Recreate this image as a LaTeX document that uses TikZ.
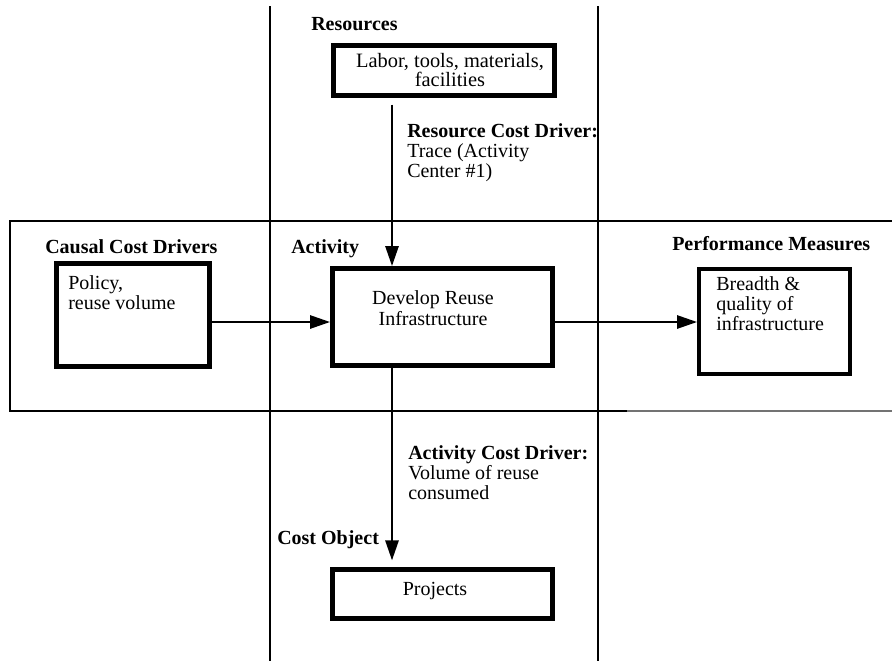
\documentclass[tikz,border=0pt]{standalone}
\usepackage{fontspec}
\setmainfont{Liberation Serif}
\usetikzlibrary{arrows.meta}

\tikzset{
  box/.style={draw, line width=3.75pt, inner sep=0pt},
  lane/.style={line width=1.4pt},
  head/.style={font=\bfseries\fontsize{15}{15}\selectfont, anchor=base west, inner sep=0pt},
  txt/.style={font=\fontsize{15}{15}\selectfont, inner sep=0pt},
}

\begin{document}
\begin{tikzpicture}[x=0.75pt, y=-0.75pt, node distance=185pt, >={Triangle[length=15pt,width=10pt]}]
  \useasboundingbox (0,0) rectangle (892,661);
  % lanes
  \draw[lane] (270,6) -- (270,661);
  \draw[lane] (598,6) -- (598,661);
  \draw[lane] (892,221) -- (10,221) -- (10,411) -- (627,411);
  \draw[line width=0.9pt, black!55] (627,411) -- (892,411);

  % boxes
  \node(act)[box, minimum width=165pt, minimum height=72.75pt] at (442.5,317) {};
  \node(res)[box, above of=act, node distance=184.9pt, xshift=1.1pt, minimum width=165.75pt, minimum height=37.5pt] {};
  \node(proj)[box, below of=act, node distance=207.75pt, minimum width=165pt, minimum height=36.75pt] {};
  \node(cause)[box, left of=act, node distance=232.1pt, yshift=1.5pt, minimum width=114.75pt, minimum height=77.25pt] {};
  \node(perf)[box, line width=3pt, right of=act, node distance=249pt, yshift=-3.4pt, minimum width=113.25pt, minimum height=78.75pt] {};

  % box texts (base = last line)
  \node(restxt)[txt, align=center, anchor=base, font=\fontsize{15.3}{14.25}\selectfont] at (450,86) {Labor, tools, materials,\\facilities};
  \node(acttxt)[txt, align=center, anchor=base, font=\fontsize{15}{15.75}\selectfont] at (433,325) {Develop Reuse\\Infrastructure};
  \node(causetxt)[txt, align=left, anchor=base west, font=\fontsize{15}{13.5}\selectfont] at (68,309) {Policy,\\reuse volume};
  \node(perftxt)[txt, align=left, anchor=base west] at (716,330) {Breadth \&\\quality of\\infrastructure};
  \node(projtxt)[txt, anchor=base] at (435,595) {Projects};

  % headings
  \node(reshd)[head] at (311,30) {Resources};
  \node(causehd)[head] at (45,253) {Causal Cost Drivers};
  \node(acthd)[head] at (291,253) {Activity};
  \node(perfhd)[head] at (672,250) {Performance Measures};
  \node(objhd)[head] at (277,544) {Cost Object};

  % driver labels
  \node(resdrv)[txt, align=left, anchor=base west] at (407,177)
    {\textbf{Resource Cost Driver:}\\Trace (Activity\\Center \#1)};
  \node(actdrv)[txt, align=left, anchor=base west] at (408,499)
    {\textbf{Activity Cost Driver:}\\Volume of reuse\\consumed};

  % flows
  \coordinate(vx) at (392,0);
  \coordinate(hy) at (0,322);
  \draw[->, lane, shorten <=5pt] (res.south -| vx) -- (act.north -| vx);
  \draw[->, lane, shorten >=5pt] (act.south -| vx) -- (proj.north -| vx);
  \draw[->, lane] (cause.east |- hy) -- (act.west |- hy);
  \draw[->, lane] (act.east |- hy) -- (perf.west |- hy);
\end{tikzpicture}
\end{document}
